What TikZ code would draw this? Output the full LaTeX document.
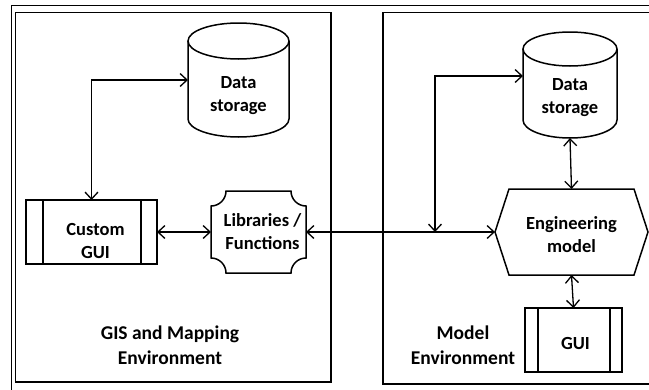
\documentclass[tikz,border=0pt]{standalone}
\usepackage{fontspec}
\setmainfont{Carlito}
\usetikzlibrary{arrows.meta}
\begin{document}
\begin{tikzpicture}[x=1pt,y=-1pt,
  frame/.style={line width=1.7pt},
  shapeline/.style={line width=1.5pt},
  tip/.tip={Straight Barb[length=7pt,width=13pt,line width=1.3pt]},
  conn/.style={line width=1.3pt, tip-tip},
  txt/.style={font=\bfseries\fontsize{18.5}{23}\selectfont, align=center, inner sep=0pt},
  envtxt/.style={font=\bfseries\fontsize{19.5}{25}\selectfont, align=center, inner sep=0pt},
  hold/.style={draw=none, inner sep=0pt, outer sep=0pt}]
\clip (0,0) rectangle (649,389);
\fill[white] (0,0) rectangle (649,389);

% outer frame and the two environment panels
\draw[frame] (11.5,5.5) rectangle (700,400);
\draw[frame] (15.5,12.5) rectangle (331,382);
\draw[frame] (383,12.5) rectangle (700,384);

% ---------- GIS and Mapping Environment ----------
\node[hold, minimum width=101pt, minimum height=114pt] (ds1) at (238.5,80) {};
\draw[shapeline] ([yshift=-18pt]ds1.north west) -- ([yshift=18pt]ds1.south west)
  arc[start angle=180, end angle=360, x radius=50.5pt, y radius=18pt]
  -- ([yshift=-18pt]ds1.north east);
\draw[shapeline] ([yshift=-18pt]ds1.north) ellipse[x radius=50.5pt, y radius=18pt];
\node[txt] (ds1t) at ([yshift=-16pt]ds1.center) {Data\\storage};

\node[hold, minimum width=131pt, minimum height=64pt] (cgui) at (91.5,232) {};
\draw[shapeline] (cgui.south west) rectangle (cgui.north east);
\draw[shapeline] ([xshift=17pt]cgui.north west) -- ([xshift=17pt]cgui.south west);
\draw[shapeline] ([xshift=-16pt]cgui.north east) -- ([xshift=-16pt]cgui.south east);
\node[txt] (cguit) at ([xshift=4pt,yshift=-9pt]cgui.center) {Custom\\GUI};

\node[hold, minimum width=95pt, minimum height=82pt] (lib) at (258.5,232) {};
\draw[shapeline] ([xshift=15pt]lib.north west) -- ([xshift=-15pt]lib.north east)
  arc[start angle=180, end angle=270, radius=15pt]
  -- ([yshift=15pt]lib.south east)
  arc[start angle=90, end angle=180, radius=15pt]
  -- ([xshift=15pt]lib.south west)
  arc[start angle=0, end angle=90, radius=15pt]
  -- ([yshift=-15pt]lib.north west)
  arc[start angle=270, end angle=360, radius=15pt] -- cycle;
\node[txt] (libt) at ([xshift=4pt]lib.center) {Libraries /\\Functions};

\node[envtxt] (gis) at (170,345.5) {GIS and Mapping\\Environment};

% ---------- Model Environment ----------
\node[hold, minimum width=94pt, minimum height=106pt] (ds2) at (570,85) {};
\draw[shapeline] ([yshift=-17pt]ds2.north west) -- ([yshift=18pt]ds2.south west)
  arc[start angle=180, end angle=360, x radius=47pt, y radius=18pt]
  -- ([yshift=-17pt]ds2.north east);
\draw[shapeline] ([yshift=-17pt]ds2.north) ellipse[x radius=47pt, y radius=17pt];
\node[txt] (ds2t) at ([yshift=-13pt]ds2.center) {Data\\storage};

\node[hold, minimum width=153pt, minimum height=86pt] (eng) at (571.5,232) {};
\draw[shapeline] (eng.west) -- ([xshift=14pt]eng.north west) -- ([xshift=-14pt]eng.north east)
  -- (eng.east) -- ([xshift=-14pt]eng.south east) -- ([xshift=14pt]eng.south west) -- cycle;
\node[txt] (engt) at ([yshift=-3pt]eng.center) {Engineering\\model};

\node[hold, minimum width=97pt, minimum height=64pt] (gui) at (573.5,340) {};
\draw[shapeline] (gui.south west) rectangle (gui.north east);
\draw[shapeline] ([xshift=13pt]gui.north west) -- ([xshift=13pt]gui.south west);
\draw[shapeline] ([xshift=-12pt]gui.north east) -- ([xshift=-12pt]gui.south east);
\node[txt] (guit) at ([xshift=2pt,yshift=-3pt]gui.center) {GUI};

\node[envtxt] (modenv) at (463,345.5) {Model\\Environment};

% ---------- connectors ----------
\draw[conn] (ds1.west) -| (cgui.north);
\draw[conn] (cgui.east) -- (lib.west);
\draw[conn] (lib.east) -- (eng.west);
\coordinate (junc) at (435,232);
\draw[conn] (junc) |- ([yshift=9pt]ds2.west);
\draw[conn] (ds2.south) -- (eng.north);
\draw[conn] (eng.south) -- (gui.north);
\end{tikzpicture}
\end{document}
